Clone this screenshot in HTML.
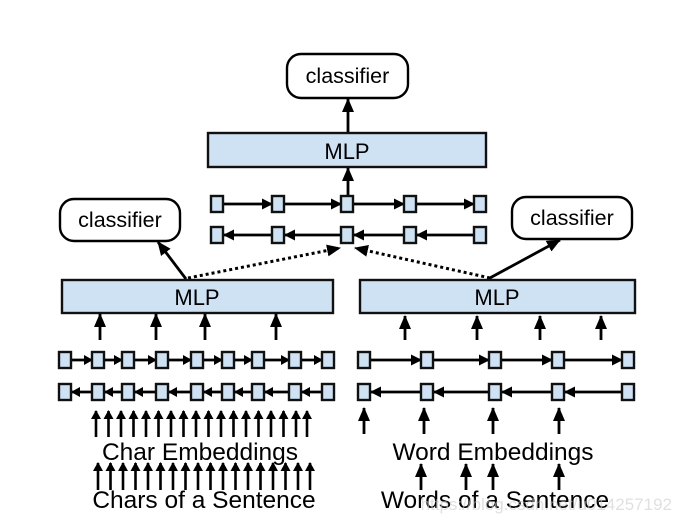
<!DOCTYPE html>
<html><head><meta charset="utf-8"><style>
html,body{margin:0;padding:0;background:#fff;}
svg{display:block;font-family:"Liberation Sans",Arial,sans-serif;}
.b{fill:#cfe2f3;stroke:#111;stroke-width:2.4;}
.l{stroke:#000;stroke-width:2.8;fill:none;}
</style></head><body>
<svg width="682" height="524" viewBox="0 0 682 524" xmlns="http://www.w3.org/2000/svg">
<defs>
<marker id="a" markerWidth="11" markerHeight="11" refX="10" refY="5.5" orient="auto" markerUnits="userSpaceOnUse"><path d="M0,0 L11,5.5 L0,11 z" fill="#000"/></marker>
<marker id="s" markerWidth="9" markerHeight="10" refX="8" refY="5" orient="auto" markerUnits="userSpaceOnUse"><path d="M0,0 L9,5 L0,10 z" fill="#000"/></marker>
<marker id="t" markerWidth="14" markerHeight="14" refX="13" refY="7" orient="auto" markerUnits="userSpaceOnUse"><path d="M0,1 L14,7 L0,13 z" fill="#000"/></marker>
</defs>
<!-- top -->
<rect x="287" y="54" width="121" height="44" rx="14" fill="#fff" stroke="#000" stroke-width="2.4"/>
<text x="347.5" y="83" font-size="21.5" text-anchor="middle">classifier</text>
<line class="l" x1="348" y1="132" x2="348" y2="99" marker-end="url(#t)"/>
<rect class="b" x="208" y="133" width="278" height="34"/>
<text x="347" y="159" font-size="22" text-anchor="middle">MLP</text>
<line class="l" x1="348" y1="196" x2="348" y2="168" marker-end="url(#t)"/>
<g class="l" marker-end="url(#a)">
<line x1="223" y1="204" x2="272" y2="204"/><line x1="284" y1="204" x2="341" y2="204"/><line x1="353" y1="204" x2="404" y2="204"/><line x1="416" y1="204" x2="474" y2="204"/>
<line x1="272" y1="235" x2="224" y2="235"/><line x1="341" y1="235" x2="285" y2="235"/><line x1="404" y1="235" x2="354" y2="235"/><line x1="474" y1="235" x2="417" y2="235"/>
</g>
<g class="b">
<rect x="211" y="196" width="12" height="16"/><rect x="272" y="196" width="12" height="16"/><rect x="341" y="196" width="12" height="16"/><rect x="404" y="196" width="12" height="16"/><rect x="474" y="196" width="12" height="16"/>
<rect x="211" y="227" width="12" height="16"/><rect x="272" y="227" width="12" height="16"/><rect x="341" y="227" width="12" height="16"/><rect x="404" y="227" width="12" height="16"/><rect x="474" y="227" width="12" height="16"/>
</g>
<line x1="188" y1="278" x2="340" y2="248" stroke="#000" stroke-width="3" stroke-dasharray="3,3" marker-end="url(#t)"/>
<line x1="490" y1="278" x2="355" y2="248" stroke="#000" stroke-width="3" stroke-dasharray="3,3" marker-end="url(#t)"/>
<!-- side classifiers -->
<rect x="60" y="199" width="120" height="42" rx="14" fill="#fff" stroke="#000" stroke-width="2.4"/>
<text x="120" y="227" font-size="21.5" text-anchor="middle">classifier</text>
<rect x="512" y="197" width="120" height="42" rx="14" fill="#fff" stroke="#000" stroke-width="2.4"/>
<text x="572" y="225" font-size="21.5" text-anchor="middle">classifier</text>
<line class="l" x1="186" y1="279" x2="158" y2="242" marker-end="url(#t)"/>
<line class="l" x1="488" y1="279" x2="560" y2="240" marker-end="url(#t)"/>
<rect class="b" x="62" y="280" width="271" height="33"/>
<text x="197" y="305" font-size="22" text-anchor="middle">MLP</text>
<rect class="b" x="360" y="280" width="275" height="33"/>
<text x="497" y="305" font-size="22" text-anchor="middle">MLP</text>
<!-- arrows up to MLP -->
<g class="l" marker-end="url(#t)">
<line x1="100" y1="340" x2="100" y2="314"/><line x1="156" y1="340" x2="156" y2="314"/><line x1="205" y1="340" x2="205" y2="314"/><line x1="276" y1="340" x2="276" y2="314"/>
<line x1="405" y1="340" x2="405" y2="316"/><line x1="477" y1="340" x2="477" y2="316"/><line x1="540" y1="340" x2="540" y2="316"/><line x1="601" y1="340" x2="601" y2="316"/>
</g>
<!-- left rows -->
<g class="l" marker-end="url(#s)">
<line x1="71" y1="360" x2="92" y2="360"/><line x1="104" y1="360" x2="122" y2="360"/><line x1="134" y1="360" x2="156" y2="360"/><line x1="168" y1="360" x2="191" y2="360"/><line x1="203" y1="360" x2="222" y2="360"/><line x1="234" y1="360" x2="252" y2="360"/><line x1="264" y1="360" x2="289" y2="360"/><line x1="301" y1="360" x2="322" y2="360"/>
<line x1="92" y1="392" x2="72" y2="392"/><line x1="122" y1="392" x2="105" y2="392"/><line x1="156" y1="392" x2="135" y2="392"/><line x1="191" y1="392" x2="169" y2="392"/><line x1="222" y1="392" x2="204" y2="392"/><line x1="252" y1="392" x2="235" y2="392"/><line x1="289" y1="392" x2="265" y2="392"/><line x1="322" y1="392" x2="302" y2="392"/>
</g>
<g class="b">
<rect x="59" y="352" width="12" height="16"/><rect x="92" y="352" width="12" height="16"/><rect x="122" y="352" width="12" height="16"/><rect x="156" y="352" width="12" height="16"/><rect x="191" y="352" width="12" height="16"/><rect x="222" y="352" width="12" height="16"/><rect x="252" y="352" width="12" height="16"/><rect x="289" y="352" width="12" height="16"/><rect x="322" y="352" width="12" height="16"/>
<rect x="59" y="384" width="12" height="16"/><rect x="92" y="384" width="12" height="16"/><rect x="122" y="384" width="12" height="16"/><rect x="156" y="384" width="12" height="16"/><rect x="191" y="384" width="12" height="16"/><rect x="222" y="384" width="12" height="16"/><rect x="252" y="384" width="12" height="16"/><rect x="289" y="384" width="12" height="16"/><rect x="322" y="384" width="12" height="16"/>
</g>
<!-- right rows -->
<g class="l" marker-end="url(#a)">
<line x1="370" y1="360" x2="421" y2="360"/><line x1="433" y1="360" x2="489" y2="360"/><line x1="501" y1="360" x2="552" y2="360"/><line x1="564" y1="360" x2="622" y2="360"/>
<line x1="421" y1="392" x2="371" y2="392"/><line x1="489" y1="392" x2="434" y2="392"/><line x1="552" y1="392" x2="502" y2="392"/><line x1="622" y1="392" x2="565" y2="392"/>
</g>
<g class="b">
<rect x="358" y="352" width="12" height="16"/><rect x="421" y="352" width="12" height="16"/><rect x="489" y="352" width="12" height="16"/><rect x="552" y="352" width="12" height="16"/><rect x="622" y="352" width="12" height="16"/>
<rect x="358" y="384" width="12" height="16"/><rect x="421" y="384" width="12" height="16"/><rect x="489" y="384" width="12" height="16"/><rect x="552" y="384" width="12" height="16"/><rect x="622" y="384" width="12" height="16"/>
</g>
<!-- char arrows -->
<g stroke="#000" stroke-width="2.6" marker-end="url(#s)">
<line x1="96" y1="437" x2="96" y2="411"/><line x1="108.5" y1="437" x2="108.5" y2="411"/><line x1="121" y1="437" x2="121" y2="411"/><line x1="133.5" y1="437" x2="133.5" y2="411"/><line x1="146" y1="437" x2="146" y2="411"/><line x1="158.5" y1="437" x2="158.5" y2="411"/><line x1="171" y1="437" x2="171" y2="411"/><line x1="183.5" y1="437" x2="183.5" y2="411"/><line x1="196" y1="437" x2="196" y2="411"/><line x1="208.5" y1="437" x2="208.5" y2="411"/><line x1="221" y1="437" x2="221" y2="411"/><line x1="233.5" y1="437" x2="233.5" y2="411"/><line x1="246" y1="437" x2="246" y2="411"/><line x1="258.5" y1="437" x2="258.5" y2="411"/><line x1="271" y1="437" x2="271" y2="411"/><line x1="283.5" y1="437" x2="283.5" y2="411"/><line x1="296" y1="437" x2="296" y2="411"/><line x1="307" y1="437" x2="307" y2="411"/>
<line x1="98" y1="490" x2="98" y2="463"/><line x1="110.5" y1="490" x2="110.5" y2="463"/><line x1="123" y1="490" x2="123" y2="463"/><line x1="135.5" y1="490" x2="135.5" y2="463"/><line x1="148" y1="490" x2="148" y2="463"/><line x1="160.5" y1="490" x2="160.5" y2="463"/><line x1="173" y1="490" x2="173" y2="463"/><line x1="185.5" y1="490" x2="185.5" y2="463"/><line x1="198" y1="490" x2="198" y2="463"/><line x1="210.5" y1="490" x2="210.5" y2="463"/><line x1="223" y1="490" x2="223" y2="463"/><line x1="235.5" y1="490" x2="235.5" y2="463"/><line x1="248" y1="490" x2="248" y2="463"/><line x1="260.5" y1="490" x2="260.5" y2="463"/><line x1="273" y1="490" x2="273" y2="463"/><line x1="285.5" y1="490" x2="285.5" y2="463"/><line x1="298" y1="490" x2="298" y2="463"/><line x1="310" y1="490" x2="310" y2="463"/>
</g>
<text x="200" y="460" font-size="24.5" text-anchor="middle">Char Embeddings</text>
<text x="204" y="508" font-size="24.5" text-anchor="middle">Chars of a Sentence</text>
<!-- word arrows -->
<g class="l" marker-end="url(#t)">
<line x1="364" y1="434" x2="364" y2="408"/><line x1="424" y1="434" x2="424" y2="408"/><line x1="493" y1="434" x2="493" y2="408"/><line x1="559" y1="434" x2="559" y2="408"/>
<line x1="421" y1="490" x2="421" y2="464"/><line x1="466" y1="490" x2="466" y2="464"/><line x1="493" y1="490" x2="493" y2="464"/><line x1="559" y1="490" x2="559" y2="464"/>
</g>
<text x="493" y="460" font-size="24.5" text-anchor="middle">Word Embeddings</text>
<text x="495" y="508" font-size="24.5" text-anchor="middle">Words of a Sentence</text>
<text x="672" y="510" font-size="17" fill="#ccc" fill-opacity="0.6" text-anchor="end">https://blog.csdn.net/u014257192</text>
</svg>
</body></html>
